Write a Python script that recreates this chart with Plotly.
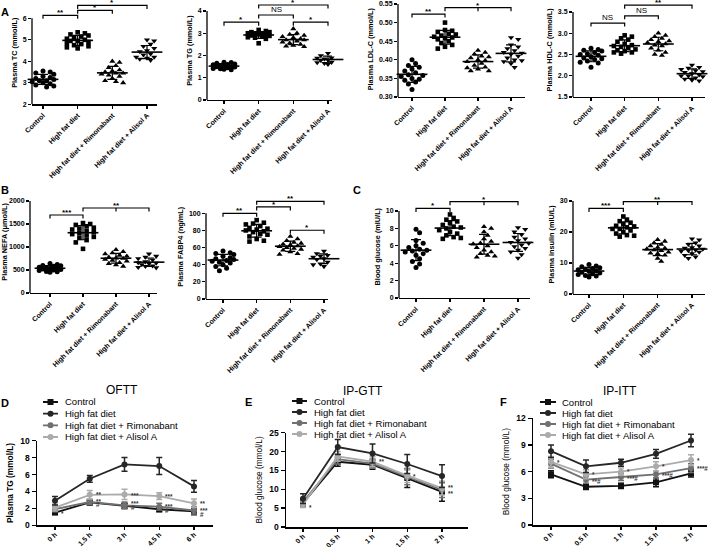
import numpy as np
import plotly.graph_objects as go

W, H = 709, 547
FONT = "Liberation Sans, Arial, Helvetica, sans-serif"

groups = ["Control", "High fat diet", "High fat diet + Rimonabant", "High fat diet + Alisol A"]
group_symbols = ["circle", "square", "triangle-up", "triangle-down"]
group_sizes = [5, 4.6, 5.4, 5.4]

# ---------------- Panel A ----------------
tc_control = [3.55, 3.5, 3.45, 3.4, 3.3, 3.25, 3.2, 3.15, 3.1, 3.1, 3.05, 3.0, 2.95, 2.9, 2.85, 2.8]
tc_hfd = [5.35, 5.3, 5.25, 5.2, 5.15, 5.1, 5.05, 5.0, 4.95, 4.9, 4.85, 4.8, 4.75, 4.7, 4.65, 4.6, 4.95]
tc_rim = [4.0, 3.95, 3.8, 3.7, 3.6, 3.55, 3.5, 3.45, 3.45, 3.4, 3.35, 3.3, 3.2, 3.1, 3.05, 3.0]
tc_ali = [5.0, 4.95, 4.8, 4.7, 4.6, 4.5, 4.45, 4.4, 4.35, 4.3, 4.2, 4.15, 4.1, 4.05, 4.1, 4.2]
tc_ticks = [2, 3, 4, 5, 6]
tc_brackets = [(0, 1, 6.14, "**", False), (1, 2, 6.37, "*", False), (1, 3, 6.6, "*", False)]

tg_control = [1.7, 1.68, 1.65, 1.62, 1.6, 1.58, 1.55, 1.52, 1.5, 1.5, 1.48, 1.45, 1.42, 1.4, 1.38, 1.36]
tg_hfd = [3.15, 3.1, 3.05, 3.0, 3.0, 2.98, 2.95, 2.92, 2.9, 2.88, 2.85, 2.82, 2.8, 2.75, 2.55, 3.05]
tg_rim = [3.2, 3.0, 2.95, 2.9, 2.85, 2.8, 2.75, 2.7, 2.7, 2.65, 2.6, 2.55, 2.5, 2.45, 2.4, 2.42]
tg_ali = [2.1, 2.05, 2.0, 1.95, 1.9, 1.88, 1.85, 1.82, 1.8, 1.78, 1.75, 1.7, 1.65, 1.62, 1.6, 1.68]
tg_ticks = [0, 1, 2, 3, 4]
tg_brackets = [(0, 1, 3.5, "*", False), (1, 2, 3.82, "NS", False), (2, 3, 3.5, "*", False), (1, 3, 4.27, "*", False)]

ldl_control = [0.40, 0.39, 0.385, 0.38, 0.375, 0.37, 0.365, 0.36, 0.358, 0.355, 0.35, 0.348, 0.345, 0.34, 0.335, 0.32]
ldl_hfd = [0.50, 0.48, 0.478, 0.475, 0.47, 0.468, 0.465, 0.462, 0.46, 0.458, 0.455, 0.45, 0.445, 0.44, 0.435, 0.43]
ldl_rim = [0.425, 0.42, 0.415, 0.41, 0.408, 0.405, 0.40, 0.398, 0.395, 0.39, 0.385, 0.38, 0.378, 0.375, 0.37, 0.37]
ldl_ali = [0.46, 0.455, 0.44, 0.435, 0.43, 0.425, 0.42, 0.418, 0.415, 0.41, 0.405, 0.40, 0.398, 0.395, 0.39, 0.38]
ldl_ticks = [0.30, 0.35, 0.40, 0.45, 0.50, 0.55]
ldl_brackets = [(0, 1, 0.523, "**", False), (1, 3, 0.540, "*", True)]

hdl_control = [2.65, 2.62, 2.6, 2.58, 2.55, 2.52, 2.5, 2.48, 2.45, 2.42, 2.4, 2.38, 2.35, 2.32, 2.3, 2.2]
hdl_hfd = [2.95, 2.92, 2.88, 2.85, 2.8, 2.75, 2.72, 2.7, 2.68, 2.65, 2.62, 2.6, 2.58, 2.55, 2.55, 2.52]
hdl_rim = [3.0, 2.95, 2.92, 2.88, 2.85, 2.82, 2.8, 2.78, 2.75, 2.72, 2.7, 2.65, 2.6, 2.55, 2.5, 2.48]
hdl_ali = [2.25, 2.2, 2.18, 2.15, 2.12, 2.1, 2.08, 2.05, 2.02, 2.0, 1.98, 1.95, 1.92, 1.9, 1.88, 2.0]
hdl_ticks = [1.5, 2.0, 2.5, 3.0, 3.5]
hdl_brackets = [(0, 1, 3.24, "NS", False), (1, 2, 3.41, "NS", False), (1, 3, 3.66, "**", False)]

# ---------------- Panel B ----------------
nefa_control = [640, 620, 600, 590, 580, 560, 550, 540, 530, 520, 510, 500, 490, 470, 460, 450]
nefa_hfd = [1520, 1500, 1480, 1450, 1420, 1400, 1380, 1350, 1320, 1300, 1280, 1250, 1220, 1200, 1150, 1100, 960]
nefa_rim = [940, 900, 870, 850, 820, 800, 780, 760, 750, 730, 710, 690, 660, 640, 610, 580]
nefa_ali = [850, 800, 780, 750, 720, 700, 680, 660, 650, 640, 620, 600, 590, 580, 560, 550]
nefa_ticks = [0, 500, 1000, 1500, 2000]
nefa_brackets = [(0, 1, 1696, "***", False), (1, 3, 1848, "**", True)]

fabp_control = [56, 54, 53, 52, 50, 48, 47, 46, 45, 44, 43, 42, 40, 38, 36, 33]
fabp_hfd = [92, 89, 88, 87, 85, 83, 82, 81, 80, 79, 78, 76, 75, 73, 70, 68, 67]
fabp_rim = [73, 70, 68, 66, 65, 64, 63, 62, 61, 60, 59, 58, 57, 55, 53, 52]
fabp_ali = [56, 54, 53, 52, 51, 50, 49, 48, 47, 46, 45, 43, 41, 40, 39, 38]
fabp_ticks = [0, 20, 40, 60, 80, 100]
fabp_brackets = [(0, 1, 100, "**", False), (1, 2, 107.4, "*", False), (1, 3, 114, "**", False), (2, 3, 80.2, "*", False)]

# ---------------- Panel C ----------------
glu_control = [7.9, 7.5, 6.6, 6.3, 6.0, 5.8, 5.6, 5.5, 5.4, 5.3, 5.1, 4.9, 4.5, 4.2, 3.9, 3.5]
glu_hfd = [9.6, 9.2, 9.0, 8.8, 8.6, 8.4, 8.2, 8.1, 8.0, 7.8, 7.6, 7.4, 7.2, 7.0, 6.9, 6.8]
glu_rim = [8.2, 8.0, 7.6, 7.2, 6.8, 6.5, 6.3, 6.2, 6.0, 5.8, 5.5, 5.3, 5.1, 4.9, 4.7, 4.8]
glu_ali = [8.1, 7.9, 7.6, 7.3, 7.0, 6.8, 6.6, 6.4, 6.3, 6.1, 5.9, 5.7, 5.5, 5.3, 5.0, 4.6]
glu_ticks = [0, 2, 4, 6, 8, 10]
glu_brackets = [(0, 1, 10.3, "*", False), (1, 3, 11.07, "*", True)]

ins_control = [9.5, 9.0, 8.8, 8.5, 8.2, 8.0, 7.8, 7.5, 7.3, 7.0, 6.8, 6.5, 6.3, 6.0, 5.8, 5.5]
ins_hfd = [25, 24, 23.5, 23, 22.5, 22, 21.8, 21.5, 21, 20.5, 20, 19.5, 19, 18.8, 18.5, 21]
ins_rim = [17.5, 17, 16.5, 16, 15.5, 15, 14.8, 14.5, 14.2, 14, 13.5, 13, 12.5, 11.5, 10.5, 13.2]
ins_ali = [17.8, 17.5, 16.5, 16, 15.5, 15, 14.8, 14.5, 14.2, 14, 13.8, 13.5, 13, 12.5, 12, 11.5]
ins_ticks = [0, 10, 20, 30]
ins_brackets = [(0, 1, 27.6, "***", False), (1, 3, 29.8, "**", True)]

# ---------------- Panels D, E, F ----------------
oftt_x = ["0 h", "1.5 h", "3 h", "4.5 h", "6 h"]
oftt_mean = {
    "Control": [1.5, 2.7, 2.3, 1.9, 1.65],
    "High fat diet": [2.9, 5.5, 7.2, 7.0, 4.6],
    "High fat diet + Rimonabant": [1.9, 2.75, 2.35, 2.2, 1.75],
    "High fat diet + Alisol A": [2.1, 3.6, 3.65, 3.45, 2.6],
}
oftt_sd = {
    "Control": [0.2, 0.3, 0.3, 0.3, 0.4],
    "High fat diet": [0.5, 0.4, 0.8, 1.0, 0.7],
    "High fat diet + Rimonabant": [0.3, 0.3, 0.4, 0.4, 0.4],
    "High fat diet + Alisol A": [0.4, 0.5, 0.6, 0.4, 0.5],
}
oftt_ticks = [0, 2, 4, 6, 8, 10]
oftt_notes = [(0, 1.4, "*"), (1, 3.6, "**"), (1, 2.85, "**"), (1, 2.45, "#"),
              (2, 3.55, "***"), (2, 2.55, "***"), (2, 2.1, "#"),
              (3, 3.35, "***"), (3, 2.2, "***"), (3, 1.75, "#"),
              (4, 2.55, "**"), (4, 1.8, "***"), (4, 1.3, "#")]

gtt_x = ["0 h", "0.5 h", "1 h", "1.5 h", "2 h"]
gtt_mean = {
    "Control": [6.3, 17.3, 16.5, 13.0, 9.3],
    "High fat diet": [7.5, 21.2, 19.5, 16.7, 13.5],
    "High fat diet + Rimonabant": [6.6, 18.0, 16.8, 13.2, 9.8],
    "High fat diet + Alisol A": [6.0, 18.7, 17.3, 13.6, 10.3],
}
gtt_sd = {
    "Control": [1.0, 1.2, 1.2, 2.5, 2.5],
    "High fat diet": [1.3, 2.0, 2.5, 2.5, 3.0],
    "High fat diet + Rimonabant": [1.0, 1.3, 1.2, 2.0, 2.0],
    "High fat diet + Alisol A": [0.8, 1.3, 1.3, 1.8, 1.8],
}
gtt_ticks = [0, 5, 10, 15, 20, 25]
gtt_notes = [(0, 5.3, "*"), (2, 17.4, "**"), (3, 13.3, "*"), (4, 10.6, "**"), (4, 8.9, "**")]

itt_x = ["0 h", "0.5 h", "1 h", "1.5 h", "2 h"]
itt_mean = {
    "Control": [5.7, 4.3, 4.4, 4.8, 5.8],
    "High fat diet": [8.3, 6.6, 7.0, 8.0, 9.5],
    "High fat diet + Rimonabant": [6.9, 5.1, 5.4, 5.7, 6.4],
    "High fat diet + Alisol A": [7.1, 5.7, 6.0, 6.6, 7.3],
}
itt_sd = {
    "Control": [0.4, 0.3, 0.3, 0.5, 0.4],
    "High fat diet": [0.7, 0.7, 0.4, 0.5, 0.7],
    "High fat diet + Rimonabant": [0.5, 0.4, 0.4, 0.4, 0.5],
    "High fat diet + Alisol A": [0.6, 0.5, 0.4, 0.5, 0.6],
}
itt_ticks = [0, 3, 6, 9, 12]
itt_notes = [(0, 7.0, "*"), (1, 5.7, "*"), (1, 4.85, "**#"), (2, 6.0, "*"), (2, 5.2, "***#"),
             (3, 6.6, "*"), (3, 5.6, "***#"), (4, 7.25, "*"), (4, 6.4, "***#")]

line_colors = {"Control": "#111111", "High fat diet": "#262626",
               "High fat diet + Rimonabant": "#707070", "High fat diet + Alisol A": "#ababab"}
line_symbols = {"Control": "square", "High fat diet": "circle",
                "High fat diet + Rimonabant": "circle", "High fat diet + Alisol A": "circle"}
draw_order = ["Control", "High fat diet + Rimonabant", "High fat diet + Alisol A", "High fat diet"]

# ======================================================================
fig = go.Figure()
layout = {}
shapes = []
annotations = []
counter = [0]


def new_axes():
    counter[0] += 1
    n = counter[0]
    xr = "x" if n == 1 else f"x{n}"
    yr = "y" if n == 1 else f"y{n}"
    xk = "xaxis" if n == 1 else f"xaxis{n}"
    yk = "yaxis" if n == 1 else f"yaxis{n}"
    return xr, yr, xk, yk


def f(size, bold=False, color="black"):
    d = dict(family=FONT, size=size, color=color)
    if bold:
        d["weight"] = "bold"
    return d


def swarm(vals, ppx, ppu, diam=4.6, step=3.6, maxoff=11.0):
    """Deterministic beeswarm: points with similar values are placed side by side."""
    vals = np.asarray(vals, dtype=float)
    order = np.argsort(-vals, kind="stable")
    cands = [0.0]
    k = 1
    while k * step <= maxoff + 1e-9:
        cands += [k * step, -k * step]
        k += 1
    placed = []
    offs = np.zeros(len(vals))
    for idx in order:
        ypx = vals[idx] * ppu
        best, best_d = None, -1.0
        for c in cands:
            d = min([np.hypot(c - px, ypx - py) for px, py in placed] or [1e9])
            if d >= diam:
                best = c
                break
            if d > best_d:
                best, best_d = c, d
        placed.append((best, ypx))
        offs[idx] = best / ppx
    return offs


def dot_panel(data, ytitle, yticks, fmt, xpx, ypx, yext, brackets):
    xr, yr, xk, yk = new_axes()
    a0, c0, c3, a1 = xpx
    ppx = (c3 - c0) / 3.0
    xrange = [-(c0 - a0) / ppx, 3 + (a1 - c3) / ppx]
    ybot, ytop = ypx
    ymin, ymax = yticks[0], yticks[-1]
    ppu = (ybot - ytop) / (ymax - ymin)
    ext_px = ybot - (yext - ymin) * ppu
    layout[xk] = dict(domain=[a0 / W, a1 / W], range=xrange, anchor=yr, showline=True,
                      linewidth=1.3, linecolor="black", ticks="outside", ticklen=3, tickwidth=1.2,
                      tickcolor="black", tickvals=list(range(4)), ticktext=groups, tickangle=-45,
                      tickfont=f(7, True), showgrid=False, zeroline=False, automargin=False)
    layout[yk] = dict(domain=[1 - ybot / H, 1 - ext_px / H], range=[ymin, yext], anchor=xr,
                      showline=False, ticks="outside", ticklen=3, tickwidth=1.2, tickcolor="black",
                      tickvals=yticks, tickformat=fmt, tickfont=f(7, True),
                      title=dict(text=ytitle, font=f(7.3, True), standoff=4),
                      showgrid=False, zeroline=False, automargin=False)
    shapes.append(dict(type="line", xref=f"{xr} domain", yref=yr, x0=0, x1=0, y0=ymin, y1=ymax,
                       line=dict(color="black", width=1.3)))
    for g, vals in enumerate(data):
        offs = swarm(vals, ppx, ppu)
        fig.add_trace(go.Scatter(x=g + offs, y=vals, mode="markers", xaxis=xr, yaxis=yr,
                                 marker=dict(symbol=group_symbols[g], size=group_sizes[g], color="black",
                                             line=dict(width=0)),
                                 cliponaxis=False, hoverinfo="skip"))
        m = float(np.mean(vals))
        sd = float(np.std(vals, ddof=1))
        fig.add_trace(go.Scatter(x=[g], y=[m], mode="markers", xaxis=xr, yaxis=yr,
                                 marker=dict(symbol="line-ew", size=22, line=dict(width=1.6, color="black")),
                                 error_y=dict(type="data", array=[sd], color="black", thickness=1.2, width=5),
                                 cliponaxis=False, hoverinfo="skip"))
    for (i, j, yv, lab, mid) in brackets:
        drop = 3.5 / ppu
        shapes.append(dict(type="path", xref=xr, yref=yr,
                           path=f"M {i},{yv - drop} L {i},{yv} L {j},{yv} L {j},{yv - drop}",
                           line=dict(color="black", width=1.2)))
        cx = (i + j) / 2
        if mid:
            shapes.append(dict(type="line", xref=xr, yref=yr, x0=cx, x1=cx, y0=yv, y1=yv - drop,
                               line=dict(color="black", width=1.2)))
        isstar = lab != "NS"
        annotations.append(dict(xref=xr, yref=yr, x=cx, y=yv, text=lab, showarrow=False,
                                xanchor="center", yanchor="bottom", yshift=-4 if isstar else -1,
                                font=f(8, isstar)))


def line_panel(xlabels, means, sds, ytitle, ytitle_bold, yticks, xpx, ypx, title, title_pos,
               leg_rows, leg_glyph, leg_text_x, notes):
    xr, yr, xk, yk = new_axes()
    a0, c0, c4, a1 = xpx
    ppx = (c4 - c0) / 4.0
    xrange = [-(c0 - a0) / ppx, 4 + (a1 - c4) / ppx]
    ybot, ytop = ypx
    layout[xk] = dict(domain=[a0 / W, a1 / W], range=xrange, anchor=yr, showline=True,
                      linewidth=1.5, linecolor="black", ticks="outside", ticklen=3, tickwidth=1.3,
                      tickcolor="black", tickvals=list(range(5)), ticktext=xlabels, tickangle=-45,
                      tickfont=f(7, True), ticklabelstandoff=-2,
                      showgrid=False, zeroline=False, automargin=False)
    layout[yk] = dict(domain=[1 - ybot / H, 1 - ytop / H], range=[yticks[0], yticks[-1]], anchor=xr,
                      showline=True, linewidth=1.5, linecolor="black", ticks="outside", ticklen=4,
                      tickwidth=1.3, tickcolor="black", tickvals=yticks, tickfont=f(8.5, True),
                      title=dict(text=ytitle, font=f(8.3, ytitle_bold), standoff=5),
                      showgrid=False, zeroline=False, automargin=False)
    xs = list(range(len(xlabels)))
    for name in draw_order:
        col = line_colors[name]
        fig.add_trace(go.Scatter(x=xs, y=means[name], mode="lines+markers", xaxis=xr, yaxis=yr,
                                 line=dict(color=col, width=1.8),
                                 marker=dict(symbol=line_symbols[name], size=6, color=col),
                                 error_y=dict(type="data", array=sds[name], color=col, thickness=1.5, width=3),
                                 cliponaxis=False, hoverinfo="skip"))
    for (i, yv, t) in notes:
        annotations.append(dict(xref=xr, yref=yr, x=i, y=yv, text=t, showarrow=False,
                                xanchor="left", yanchor="middle", xshift=4,
                                font=f(6.3, True, "#333333")))
    annotations.append(dict(xref="paper", yref="paper", x=title_pos[0] / W, y=1 - title_pos[1] / H,
                            text=title, showarrow=False, xanchor="center", yanchor="middle",
                            font=f(12)))
    # legend drawn in its own small hidden axes
    lxr, lyr, lxk, lyk = new_axes()
    r0, r1 = leg_rows
    step = (r1 - r0) / 3.0
    layout[lxk] = dict(domain=[leg_glyph[0] / W, leg_glyph[1] / W], range=[0, 1], anchor=lyr, visible=False)
    layout[lyk] = dict(domain=[1 - (r1 + step / 2) / H, 1 - (r0 - step / 2) / H], range=[3.5, -0.5],
                       anchor=lxr, visible=False)
    for k, name in enumerate(groups):
        col = line_colors[name]
        fig.add_trace(go.Scatter(x=[0, 1], y=[k, k], mode="lines", xaxis=lxr, yaxis=lyr,
                                 line=dict(color=col, width=1.8), hoverinfo="skip", cliponaxis=False))
        fig.add_trace(go.Scatter(x=[0.5], y=[k], mode="markers", xaxis=lxr, yaxis=lyr,
                                 marker=dict(symbol=line_symbols[name], size=6, color=col),
                                 hoverinfo="skip", cliponaxis=False))
        annotations.append(dict(xref="paper", yref=lyr, x=leg_text_x / W, y=k, text=name,
                                showarrow=False, xanchor="left", yanchor="middle", font=f(9.5)))


# ---- build the dot panels ----
dot_panel([tc_control, tc_hfd, tc_rim, tc_ali], "Plasma TC (mmol/L)", tc_ticks, "",
          (32, 43, 147, 157), (104.3, 18.3), 6.8, tc_brackets)
dot_panel([tg_control, tg_hfd, tg_rim, tg_ali], "Plasma TG (mmol/L)", tg_ticks, "",
          (207, 224, 328, 332), (100, 11), 4.45, tg_brackets)
dot_panel([ldl_control, ldl_hfd, ldl_rim, ldl_ali], "Plasma LDL-C (mmol/L)", ldl_ticks, ".2f",
          (398, 412, 511, 525), (97, 4), 0.557, ldl_brackets)
dot_panel([hdl_control, hdl_hfd, hdl_rim, hdl_ali], "Plasma HDL-C (mmol/L)", hdl_ticks, ".1f",
          (573, 591, 692, 705), (97, 12), 3.72, hdl_brackets)
dot_panel([nefa_control, nefa_hfd, nefa_rim, nefa_ali], "Plasma NEFA (μmol/L)", nefa_ticks, "",
          (30, 50, 149, 157), (293, 201), 2220, nefa_brackets)
dot_panel([fabp_control, fabp_hfd, fabp_rim, fabp_ali], "Plasma FABP4 (ng/mL)", fabp_ticks, "",
          (206, 223, 324, 328), (299, 213.3), 122, fabp_brackets)
dot_panel([glu_control, glu_hfd, glu_rim, glu_ali], "Blood glucose (mIU/L)", glu_ticks, "",
          (399, 416, 518, 530), (298, 211), 11.8, glu_brackets)
dot_panel([ins_control, ins_hfd, ins_rim, ins_ali], "Plasma insulin (mIU/L)", ins_ticks, "",
          (573, 589, 692, 705), (294, 201), 32, ins_brackets)

# ---- build the line panels ----
line_panel(oftt_x, oftt_mean, oftt_sd, "Plasma TG (mmol/L)", True, oftt_ticks,
           (37, 55, 194, 213), (525.3, 440.7), "OFTT", (122, 390),
           (402, 437), (43, 58), 63, oftt_notes)
line_panel(gtt_x, gtt_mean, gtt_sd, "Blood glucose (mmol/L)", False, gtt_ticks,
           (286, 303, 442, 468), (527, 432.7), "IP-GTT", (363, 391),
           (401, 434), (292, 307), 312, gtt_notes)
line_panel(itt_x, itt_mean, itt_sd, "Blood glucose (mmol/L)", False, itt_ticks,
           (533, 551, 691, 707), (525, 418.3), "IP-ITT", (620, 391),
           (402, 435), (540, 556), 560, itt_notes)

# ---- panel letters ----
for letter, (lx, ly) in {"A": (5, 12), "B": (5, 190), "C": (357, 190), "D": (5, 403),
                         "E": (248, 402), "F": (503, 402)}.items():
    annotations.append(dict(xref="paper", yref="paper", x=lx / W, y=1 - ly / H, text=letter,
                            showarrow=False, xanchor="center", yanchor="middle", font=f(11, True)))

fig.update_layout(width=W, height=H, margin=dict(l=0, r=0, t=0, b=0),
                  paper_bgcolor="white", plot_bgcolor="white", showlegend=False,
                  shapes=shapes, annotations=annotations, font=dict(family=FONT, color="black"),
                  **layout)
fig.write_html("out.html", config={"displayModeBar": False, "staticPlot": True},
               post_script="document.body.style.margin='0';document.body.style.overflow='hidden';")
